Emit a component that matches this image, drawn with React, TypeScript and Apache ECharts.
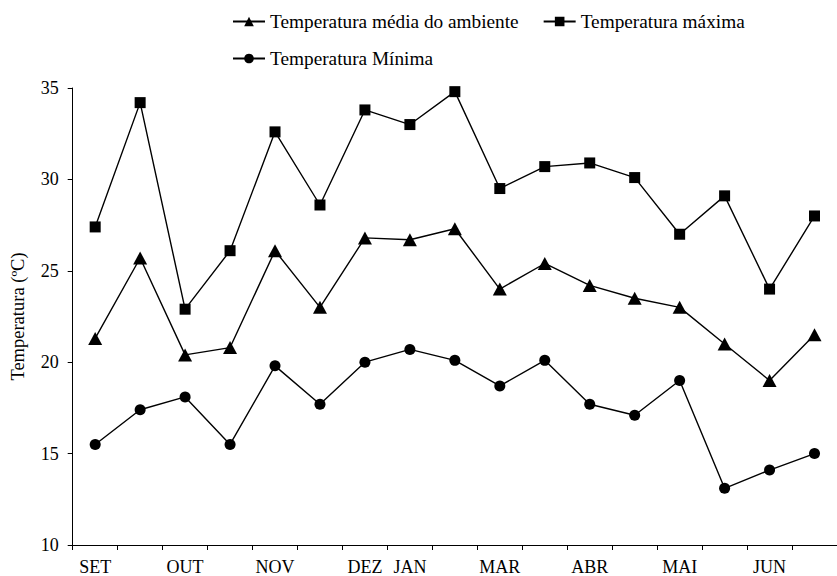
import React, { useEffect, useRef } from "react";
import * as echarts from "echarts";

const monthLabels = ["SET", "", "OUT", "", "NOV", "", "DEZ", "JAN", "", "MAR", "", "ABR", "", "MAI", "", "JUN", ""];
const seriesNames = ["Temperatura média do ambiente", "Temperatura máxima", "Temperatura Mínima"];
const tempMedia = [21.3, 25.7, 20.4, 20.8, 26.1, 23.0, 26.8, 26.7, 27.3, 24.0, 25.4, 24.2, 23.5, 23.0, 21.0, 19.0, 21.5];
const tempMaxima = [27.4, 34.2, 22.9, 26.1, 32.6, 28.6, 33.8, 33.0, 34.8, 29.5, 30.7, 30.9, 30.1, 27.0, 29.1, 24.0, 28.0];
const tempMinima = [15.5, 17.4, 18.1, 15.5, 19.8, 17.7, 20.0, 20.7, 20.1, 18.7, 20.1, 17.7, 17.1, 19.0, 13.1, 14.1, 15.0];
const yTicks = { min: 10, max: 35, interval: 5 };
const yAxisTitle = "Temperatura (ºC)";

const FONT = "'Liberation Serif', 'Times New Roman', serif";

export default function App() {
  const ref = useRef<HTMLDivElement>(null);
  useEffect(() => {
    if (!ref.current) return;
    const chart = echarts.init(ref.current, undefined, { renderer: "svg" });
    const mk = (name: string, data: number[], symbol: string, size: number | number[]) => ({
      name,
      type: "line",
      data,
      symbol,
      symbolSize: size,
      showSymbol: true,
      lineStyle: { color: "#000", width: 1.4 },
      itemStyle: { color: "#000" },
      z: 3,
    });
    const legendBase = {
      left: 227,
      itemGap: 24,
      itemWidth: 32,
      itemHeight: 12,
      textStyle: { fontFamily: FONT, fontSize: 19.3, lineHeight: 15, color: "#000" },
    };
    chart.setOption({
      animation: false,
      backgroundColor: "#fff",
      textStyle: { fontFamily: FONT, color: "#000" },
      legend: [
        { ...legendBase, top: 7, data: seriesNames.slice(0, 2) },
        { ...legendBase, top: 44, data: seriesNames.slice(2) },
      ],
      grid: { left: 72.7, top: 88, right: -9, bottom: 29.3, containLabel: false },
      xAxis: {
        type: "category",
        data: monthLabels,
        boundaryGap: true,
        axisLine: { lineStyle: { color: "#000", width: 1 } },
        axisTick: { show: true, inside: false, length: 5, interval: 0, lineStyle: { color: "#000" } },
        axisLabel: { interval: 0, margin: 13, fontFamily: FONT, fontSize: 18, color: "#000" },
        splitLine: { show: false },
      },
      yAxis: {
        type: "value",
        min: yTicks.min,
        max: yTicks.max,
        interval: yTicks.interval,
        name: yAxisTitle,
        nameLocation: "middle",
        nameGap: 45,
        nameTextStyle: { fontFamily: FONT, fontSize: 18.5, color: "#000" },
        axisLine: { show: true, lineStyle: { color: "#000", width: 1 } },
        axisTick: { show: true, inside: false, length: 5, lineStyle: { color: "#000" } },
        axisLabel: { margin: 14, fontFamily: FONT, fontSize: 18, color: "#000" },
        splitLine: { show: false },
      },
      series: [
        mk(seriesNames[0], tempMedia, "triangle", [14, 13]),
        mk(seriesNames[1], tempMaxima, "rect", 11),
        mk(seriesNames[2], tempMinima, "circle", 11),
      ],
    });
    return () => chart.dispose();
  }, []);
  return <div ref={ref} style={{ position: "absolute", left: 0, top: 0, width: 837, height: 576 }} />;
}
